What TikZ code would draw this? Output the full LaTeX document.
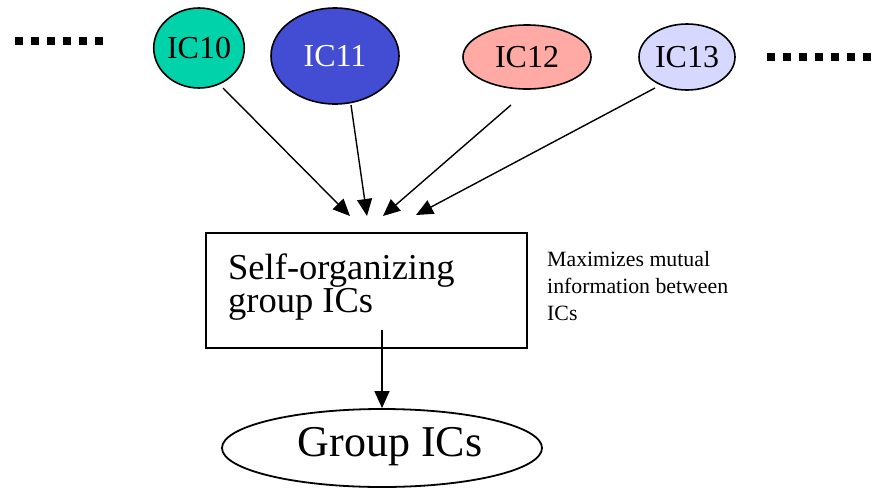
\documentclass[tikz,border=0pt]{standalone}
\usepackage{fontspec}
\setmainfont{Liberation Serif}
\usetikzlibrary{arrows.meta,shapes.geometric}
\definecolor{icteal}{RGB}{0,210,170}
\definecolor{icblue}{RGB}{66,77,212}
\definecolor{icpink}{RGB}{255,170,165}
\definecolor{iclav}{RGB}{214,216,255}
\begin{document}
\begin{tikzpicture}[x=1pt,y=-1pt,
  icnode/.style={ellipse, draw=black, line width=1.6pt, inner sep=0pt, font=\fontsize{32}{32}\selectfont},
  arr/.style={line width=1.4pt, -{Triangle[length=17pt,width=15pt]}},
  sq/.style={fill=black},
  boxnode/.style={draw=black, line width=2pt, inner sep=0pt},
  outnode/.style={ellipse, draw=black, line width=1.8pt, inner sep=0pt}]
\useasboundingbox (0,0) rectangle (873,488);
% dotted squares
\foreach \i in {0,...,5} \fill[sq] (15+16*\i,37) rectangle ++(8,8);
\foreach \i in {0,...,6} \fill[sq] (767+16*\i,53) rectangle ++(8,8);
% IC nodes
\node[icnode, fill=icteal, minimum width=80, minimum height=80] (ic10) at (199,48) {IC10};
\node[icnode, fill=icblue, text=white, minimum width=128, minimum height=96] (ic11) at (335,56) {IC11};
\node[icnode, fill=icpink, minimum width=128, minimum height=64] (ic12) at (527,57) {IC12};
\node[icnode, fill=iclav, minimum width=96, minimum height=66] (ic13) at (687,57) {IC13};
% box
\node[boxnode, minimum width=321, minimum height=115] (box) at (366.5,290.5) {};
\node[anchor=base west, align=left, inner sep=0pt, font=\fontsize{36.5}{33}\selectfont] (boxtext) at (228,312) {Self-organizing\\group ICs};
% annotation
\node[anchor=base west, align=left, inner sep=0pt, font=\fontsize{21.8}{27}\selectfont] (note) at (547,320) {Maximizes mutual\\information between\\ICs};
% output ellipse
\node[outnode, minimum width=320, minimum height=78] (group) at (382,448) {};
\node[anchor=base, inner sep=0pt, font=\fontsize{44}{44}\selectfont] (grouptext) at (390,456) {Group ICs};
% arrow coordinates
\coordinate (s10) at (223,88);
\coordinate (s11) at (351,105);
\coordinate (s12) at (511,105);
\coordinate (s13) at (655,88);
\coordinate (t10) at (350,216);
\coordinate (t11) at (367,216);
\coordinate (t12) at (383,216);
\coordinate (t13) at (416,215);
\coordinate (bs) at (382,330);
\draw[arr] (s10) -- (t10);
\draw[arr] (s11) -- (t11);
\draw[arr] (s12) -- (t12);
\draw[arr] (s13) -- (t13);
\draw[arr] (bs) -- (group.north);
\end{tikzpicture}
\end{document}
